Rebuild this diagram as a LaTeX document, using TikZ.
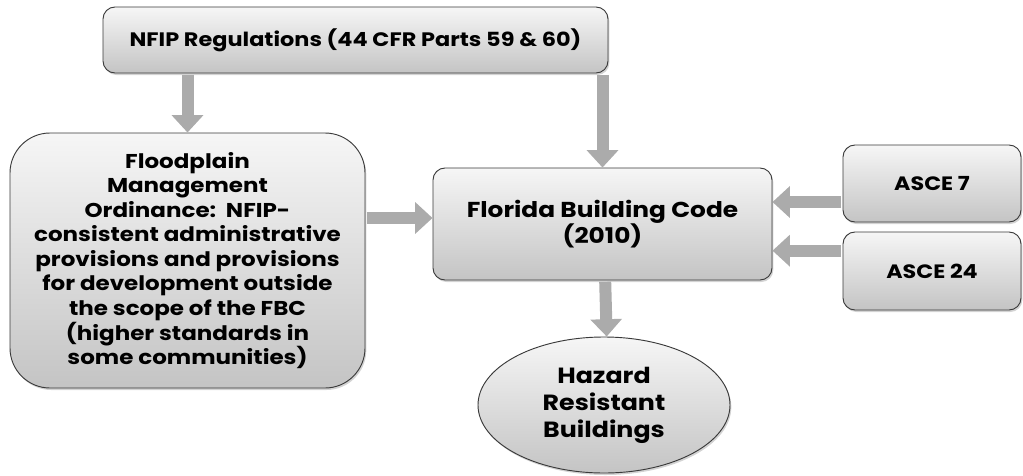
\documentclass[tikz,border=0pt]{standalone}
\usepackage{fontspec}
\setmainfont{Poppins}[FakeStretch=1.15]
\usetikzlibrary{arrows.meta,shapes.geometric,shadows,calc}
\definecolor{arrowgray}{HTML}{ABABAB}
\definecolor{edgegray}{HTML}{3A3A3A}
\definecolor{topfill}{HTML}{F6F6F6}
\definecolor{botfill}{HTML}{C4C4C4}
\tikzset{
  boxbase/.style={draw=edgegray, line width=0.7pt, top color=topfill, bottom color=botfill,
    drop shadow={opacity=0.35, shadow xshift=1pt, shadow yshift=-1.5pt},
    align=center, font=\bfseries, inner sep=2pt},
  rbox/.style={boxbase, rectangle, rounded corners=9pt},
  flow/.style={draw=arrowgray, line width=9pt, -{Triangle[width=23pt,length=13pt]}, shorten <=1pt},
}
\begin{document}
\begin{tikzpicture}[x=0.75pt,y=-0.75pt]
\useasboundingbox (0,0) rectangle (1023,475);
\node[rbox, minimum width=505*0.75pt, minimum height=66*0.75pt, font=\bfseries\fontsize{14.6}{16}\selectfont] (nfip) at (355.5,40) {NFIP Regulations (44 CFR Parts 59 \& 60)};
\node[rbox, rounded corners=30pt, minimum width=355*0.75pt, minimum height=255*0.75pt, font=\bfseries\fontsize{15}{18.4}\selectfont] (flood) at (187.5,260.5) {Floodplain\\Management\\Ordinance:\ \ NFIP-\\consistent administrative\\provisions and provisions\\for development outside\\the scope of the FBC\\(higher standards in\\some communities)};
\node[rbox, minimum width=339*0.75pt, minimum height=112*0.75pt, font=\bfseries\fontsize{16.2}{20}\selectfont] (fbc) at (602.5,224) {Florida Building Code\\(2010)};
\node[rbox, minimum width=178*0.75pt, minimum height=77*0.75pt, font=\bfseries\fontsize{14.5}{16}\selectfont] (asce7) at (932,183.5) {ASCE 7};
\node[rbox, minimum width=178*0.75pt, minimum height=78*0.75pt, font=\bfseries\fontsize{14.5}{16}\selectfont] (asce24) at (932,271) {ASCE 24};
\node[boxbase, ellipse, minimum width=252*0.75pt, minimum height=136*0.75pt, inner sep=0pt, font=\bfseries\fontsize{16.5}{20.3}\selectfont] (hrb) at (604,405) {Hazard\\Resistant\\Buildings};
\draw[flow] (flood.north |- nfip.south) -- (flood.north);
\draw[flow] (fbc.north |- nfip.south) -- (fbc.north);
\draw[flow] (flood.east |- fbc.west) ++(0,-6) coordinate (fa) -- (fa -| fbc.west);
\draw[flow] ([yshift=16.5pt]asce7.west |- fbc.east) -- ([yshift=16.5pt]fbc.east);
\draw[flow] ([yshift=-20pt]asce24.west |- fbc.east) -- ([yshift=-20pt]fbc.east);
\draw[flow] ([xshift=2pt]fbc.south) -- ([xshift=2pt]hrb.north);
\end{tikzpicture}
\end{document}
